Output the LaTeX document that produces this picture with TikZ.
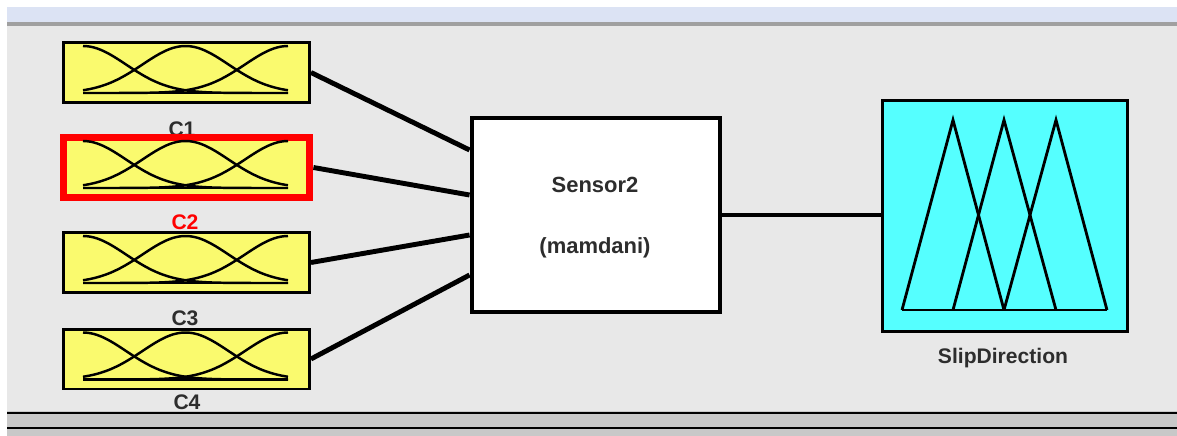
\documentclass[tikz,border=0pt]{standalone}
\usepackage{fontspec}
\setmainfont{Liberation Sans}
\usetikzlibrary{calc}
\definecolor{panelgray}{RGB}{232,232,232}
\definecolor{bandblue}{RGB}{220,227,244}
\definecolor{linegray}{RGB}{160,160,160}
\definecolor{barGray}{RGB}{200,200,200}
\definecolor{mfyellow}{RGB}{250,250,110}
\definecolor{outcyan}{RGB}{85,255,255}
\definecolor{txtgray}{RGB}{45,45,45}
\begin{document}
\begin{tikzpicture}[x=0.02cm,y=-0.02cm,
	inbox/.style={draw=black,fill=mfyellow,line width=1.7pt,minimum width=4.92cm,minimum height=1.2cm,inner sep=0},
	fisbox/.style={draw=black,fill=white,line width=2.8pt,minimum width=4.96cm,minimum height=3.88cm,inner sep=0},
	outbox/.style={draw=black,fill=outcyan,line width=1.7pt,minimum width=4.92cm,minimum height=4.64cm,inner sep=0},
	wire/.style={line width=2.8pt},
	mfline/.style={line width=1.4pt},
	lbl/.style={font=\fontsize{12}{14}\selectfont\bfseries,text=txtgray,inner sep=0}]
	\useasboundingbox (0,0) rectangle (1177,436);
	\fill[white] (0,0) rectangle (1177,436);
	\fill[panelgray] (7,22) rectangle (1177,436);
	\fill[bandblue] (7,7) rectangle (1177,22);
	\fill[linegray] (7,22) rectangle (1177,26);

	\node[lbl] (l1) at (182,129) {C1};
	\node[lbl,text=red] (l2) at (185,222) {C2};
	\node[lbl] (l3) at (185,318) {C3};
	\node[lbl] (l4) at (187,402) {C4};

	\node[inbox] (c1) at (186.5,72.5) {};
	\node[inbox,draw=red,line width=4.5pt] (c2) at (186.5,167.5) {};
	\node[inbox] (c3) at (186.5,262.5) {};
	\node[inbox] (c4) at (186.5,359) {};

	\foreach \cy in {72.5,167.5,262.5,359}{
		\draw[mfline] (83,\cy+20.5) -- (288,\cy+20.5);
		\draw[mfline] plot[domain=83:288,samples=60] (\x,{\cy+20.5-47*exp(0-0.5*((\x-83)/43)^2)});
		\draw[mfline] plot[domain=83:288,samples=60] (\x,{\cy+20.5-47*exp(0-0.5*((\x-185.5)/43)^2)});
		\draw[mfline] plot[domain=83:288,samples=60] (\x,{\cy+20.5-47*exp(0-0.5*((\x-288)/43)^2)});
	}

	\node[fisbox] (s2) at (596,215) {};
	\node[lbl,font=\fontsize{12.5}{14}\selectfont\bfseries] (name) at (595,185) {Sensor2};
	\node[lbl,font=\fontsize{12.5}{14}\selectfont\bfseries] (kind) at (595,248) {(mamdani)};

	\node[outbox] (sd) at (1005,216) {};
	\draw[mfline,line width=1.6pt] (902,310) -- (1107,310);
	\draw[mfline,line width=1.6pt] (902,310) -- (953,120) -- (1004,310);
	\draw[mfline,line width=1.6pt] (953,310) -- (1004,120) -- (1056,310);
	\draw[mfline,line width=1.6pt] (1004,310) -- (1056,120) -- (1107,310);
	\node[lbl] (l5) at (1003,358) {SlipDirection};

	\draw[wire] (c1.east) -- ($(s2.west)+(0,-65)$);
	\draw[wire] (c2.east) -- ($(s2.west)+(0,-20)$);
	\draw[wire] (c3.east) -- ($(s2.west)+(0,20)$);
	\draw[wire] (c4.east) -- ($(s2.west)+(0,60)$);
	\draw[wire] (s2.east) -- (s2.east -| sd.west);

	\fill[barGray] (7,411) rectangle (1177,436);
	\draw[line width=1.3pt] (7,413) -- (1177,413);
	\draw[line width=1.3pt] (7,428) -- (1177,428);
\end{tikzpicture}
\end{document}
